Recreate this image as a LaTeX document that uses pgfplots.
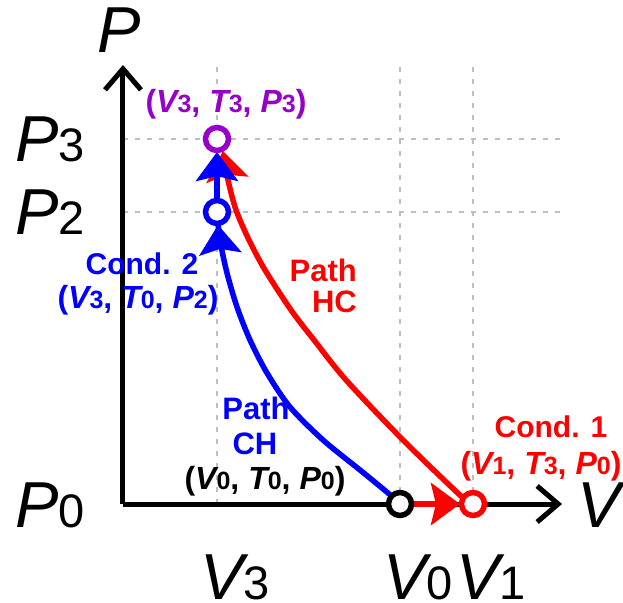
\documentclass[border=0pt]{standalone}
\usepackage{pgfplots}
\pgfplotsset{compat=1.18}
\usetikzlibrary{arrows.meta}
\usepackage{fontspec}
\setmainfont{Liberation Sans}
\definecolor{myblue}{RGB}{0,0,255}
\definecolor{myred}{RGB}{255,0,0}
\definecolor{mypurple}{RGB}{150,0,200}
\definecolor{gridgray}{RGB}{190,190,190}
\newcommand{\axl}[2]{{\fontsize{65bp}{65bp}\selectfont\itshape #1}{\fontsize{47bp}{47bp}\selectfont #2}}
\newcommand{\sv}[2]{{\itshape #1}{\fontsize{25bp}{25bp}\selectfont #2}}
\begin{document}
\begin{tikzpicture}
\begin{axis}[
  x=1bp, y=1bp,
  xmin=0, xmax=439, ymin=0, ymax=439,
  enlargelimits=false,
  clip=false,
  axis lines=left,
  axis line style={line width=5bp, -{Straight Barb[length=21bp, width=36bp]}},
  xtick={94,277,350}, ytick={0,292,365},
  xticklabels={\axl{V}{3},\axl{V}{0},\axl{V}{1}},
  yticklabels={\axl{P}{0},\axl{P}{2},\axl{P}{3}},
  major tick length=0pt,
  xticklabel style={anchor=base west, inner sep=0pt, xshift=-17bp, yshift=-95bp},
  yticklabel style={anchor=base west, inner sep=0pt, xshift=-108bp, yshift=-23bp},
  grid=major,
  grid style={dash pattern=on 5bp off 7bp, line width=2.5bp, gridgray},
  every axis plot/.append style={/tikz/arrows={-{Stealth[length=29bp, width=42bp, inset=5bp]}}},
]
% red path HC
\addplot[myred, line width=5.5bp, smooth]
  coordinates {(350,0) (339,7) (280,64) (223,124) (191,164) (168,194) (142,234) (126,264) (113,294) (105,324) (100,353)};
% red horizontal
\addplot[myred, line width=5.5bp, shorten >=13bp, shorten <=13bp]
  coordinates {(277,0) (350,0)};
% blue path CH
\addplot[myblue, line width=5.5bp, smooth, shorten >=13bp]
  coordinates {(277,0) (265,11) (237,34) (200,64) (167,97) (144,131) (127,164) (114,197) (104,231) (97,264) (94,292)};
% blue vertical
\addplot[myblue, line width=5.5bp, shorten >=13bp, shorten <=13bp]
  coordinates {(94,292) (94,365)};
% state circles
\addplot[only marks, arrows=-, mark=*, mark size=11.5bp, mark options={draw=black, fill=white, line width=5.5bp}] coordinates {(277,0)};
\addplot[only marks, arrows=-, mark=*, mark size=11.5bp, mark options={draw=myred, fill=white, line width=5.5bp}] coordinates {(350,0)};
\addplot[only marks, arrows=-, mark=*, mark size=11.5bp, mark options={draw=myblue, fill=white, line width=5.5bp}] coordinates {(94,292)};
\addplot[only marks, arrows=-, mark=*, mark size=11.5bp, mark options={draw=mypurple, fill=white, line width=5.5bp}] coordinates {(94,365)};
% axis labels
\node[anchor=base, inner sep=0pt, font=\fontsize{65bp}{65bp}\selectfont\itshape] at (axis cs:-4,451) {P};
\node[anchor=base west, inner sep=0pt, font=\fontsize{65bp}{65bp}\selectfont\itshape] at (axis cs:454,-23) {V};
% annotations
\node[anchor=base, inner sep=0pt, text=mypurple, font=\fontsize{32bp}{32bp}\selectfont\bfseries] at (axis cs:103,391) {(\sv{V}{3}, \sv{T}{3}, \sv{P}{3})};
\node[anchor=base, inner sep=0pt, text=myblue, font=\fontsize{30bp}{30bp}\selectfont\bfseries] at (axis cs:19,229) {Cond. 2};
\node[anchor=base, inner sep=0pt, text=myblue, font=\fontsize{32bp}{32bp}\selectfont\bfseries] at (axis cs:15,195) {(\sv{V}{3}, \sv{T}{0}, \sv{P}{2})};
\node[anchor=base, inner sep=0pt, text=myblue, font=\fontsize{31bp}{31bp}\selectfont\bfseries] at (axis cs:133,84) {Path};
\node[anchor=base, inner sep=0pt, text=myblue, font=\fontsize{31bp}{31bp}\selectfont\bfseries] at (axis cs:132,49) {CH};
\node[anchor=base, inner sep=0pt, text=black, font=\fontsize{32bp}{32bp}\selectfont\bfseries] at (axis cs:142,14) {(\sv{V}{0}, \sv{T}{0}, \sv{P}{0})};
\node[anchor=base east, inner sep=0pt, text=myred, font=\fontsize{31bp}{31bp}\selectfont\bfseries] at (axis cs:234,222) {Path};
\node[anchor=base east, inner sep=0pt, text=myred, font=\fontsize{31bp}{31bp}\selectfont\bfseries] at (axis cs:234,191) {HC};
\node[anchor=base, inner sep=0pt, text=myred, font=\fontsize{30bp}{30bp}\selectfont\bfseries] at (axis cs:428,66) {Cond. 1};
\node[anchor=base, inner sep=0pt, text=myred, font=\fontsize{32bp}{32bp}\selectfont\bfseries] at (axis cs:418,29) {(\sv{V}{1}, \sv{T}{3}, \sv{P}{0})};
% overall extent
\path (axis cs:-123,-99) rectangle (axis cs:500,504);
\end{axis}
\end{tikzpicture}
\end{document}
